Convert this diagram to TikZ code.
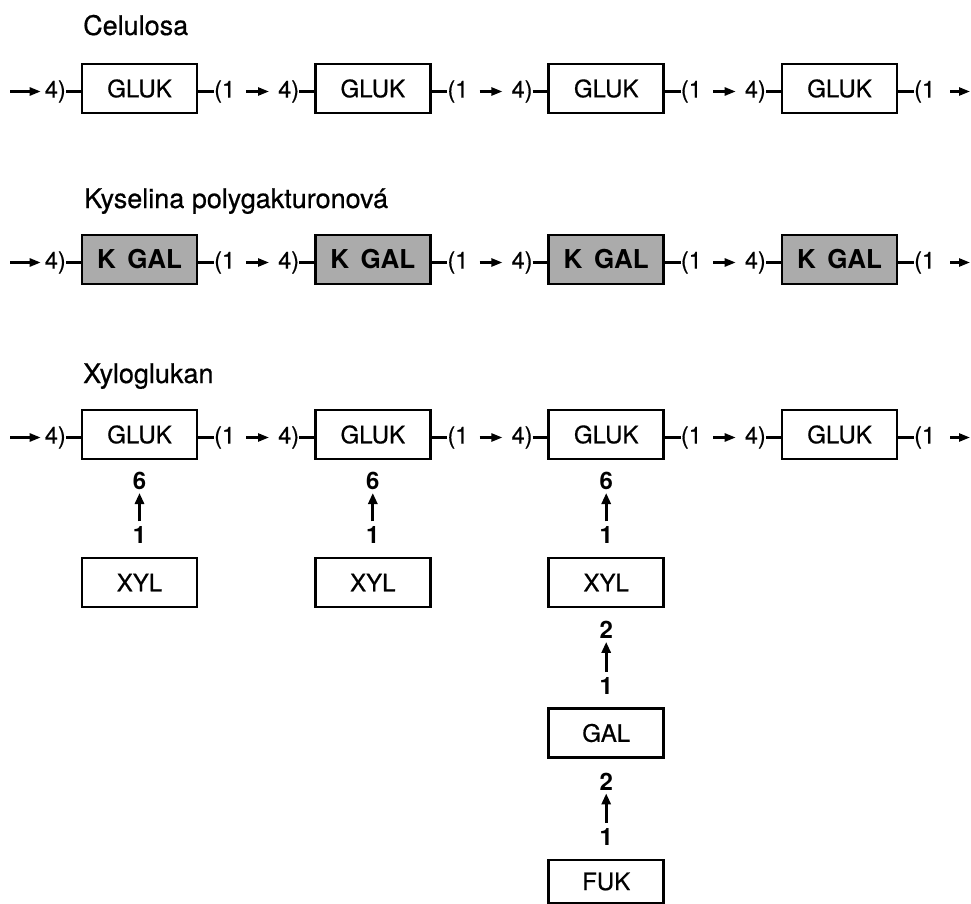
\documentclass[tikz,border=0pt]{standalone}
\usepackage{fontspec}
\setmainfont{TeX Gyre Heros}
\newfontfamily\heros[FakeBold=0.6]{TeX Gyre Heros}
\usetikzlibrary{arrows.meta}
\begin{document}
\begin{tikzpicture}[x=1pt,y=-1pt,
 box/.style={draw, line width=2.6pt, minimum width=115pt, minimum height=49pt, inner sep=0pt, font=\heros\fontsize{24}{26}\selectfont},
 gbox/.style={box, fill=black!33, font=\fontsize{26}{28}\selectfont\bfseries},
 lnk/.style={inner sep=0pt, font=\heros\fontsize{23.5}{25}\selectfont},
 num/.style={inner sep=0pt, font=\fontsize{24}{26}\selectfont\bfseries},
 ttl/.style={anchor=base west, inner sep=0pt, font=\heros\fontsize{27}{30}\selectfont},
 bond/.style={line width=2.2pt},
 arr/.style={line width=2.4pt, -{Triangle[length=11pt,width=8pt]}},
 varr/.style={line width=2.8pt, -{Triangle[length=11pt,width=9pt]}},
]
\useasboundingbox (0,0) rectangle (971,904);

% titles
\node[ttl] (t1) at (83,35) {Celulosa};
\node[ttl] (t2) at (84,208) {Kyselina polygakturonová};
\node[ttl] (t3) at (83,383) {Xyloglukan};

% chains
\foreach \r/\cy/\sty/\txt in {a/88.5/box/GLUK, b/259.5/gbox/K\,~GAL, c/434.5/box/GLUK} {
  \foreach \i/\L in {1/82,2/315.3,3/548.7,4/782} {
    \node[\sty] (\r\i) at (\L+57.5,\cy) {\txt};
    \node[lnk, anchor=east] (\r\i-l) at (\L-16,\cy+3) {4)};
    \node[lnk, anchor=west] (\r\i-r) at (\L+132,\cy+3) {(1};
    \draw[bond] (\r\i-l.east) -- (\r\i-l.east -| \r\i.west);
    \draw[bond] (\r\i-r.west -| \r\i.east) -- (\r\i-r.west);
  }
  \foreach \i [evaluate=\i as \j using int(\i+1)] in {1,2,3} {
    \draw[arr, shorten <=11pt, shorten >=9pt] (\r\i-r) -- (\r\j-l);
  }
  \coordinate (\r0) at (10,\cy+3);
  \coordinate (\r5) at (970,\cy+3);
  \draw[arr, shorten >=4pt] (\r0) -- (\r1-l);
  \draw[arr, shorten <=15pt] (\r4-r) -- (\r5);
}

% xyloglucan side chains
\foreach \i/\L in {1/82,2/315.3,3/548.7} {
  \node[num] (s\i) at (\L+57.5,481) {6};
  \node[num] (o\i) at (\L+57.5,535) {1};
  \node[box] (x\i) at (\L+57.5,582.5) {XYL};
  \draw[varr, shorten <=5pt, shorten >=3pt] (o\i) -- (s\i);
}
\node[num] (g2) at (606.2,630) {2};
\node[num] (g1) at (606.2,685.5) {1};
\draw[varr, shorten <=5pt, shorten >=3pt] (g1) -- (g2);
\node[box] (gal) at (606.2,733) {GAL};
\node[num] (f2) at (606.2,781.5) {2};
\node[num] (f1) at (606.2,836.5) {1};
\draw[varr, shorten <=5pt, shorten >=3pt] (f1) -- (f2);
\node[box, minimum height=43pt] (fuk) at (606.2,881.5) {FUK};
\end{tikzpicture}
\end{document}
